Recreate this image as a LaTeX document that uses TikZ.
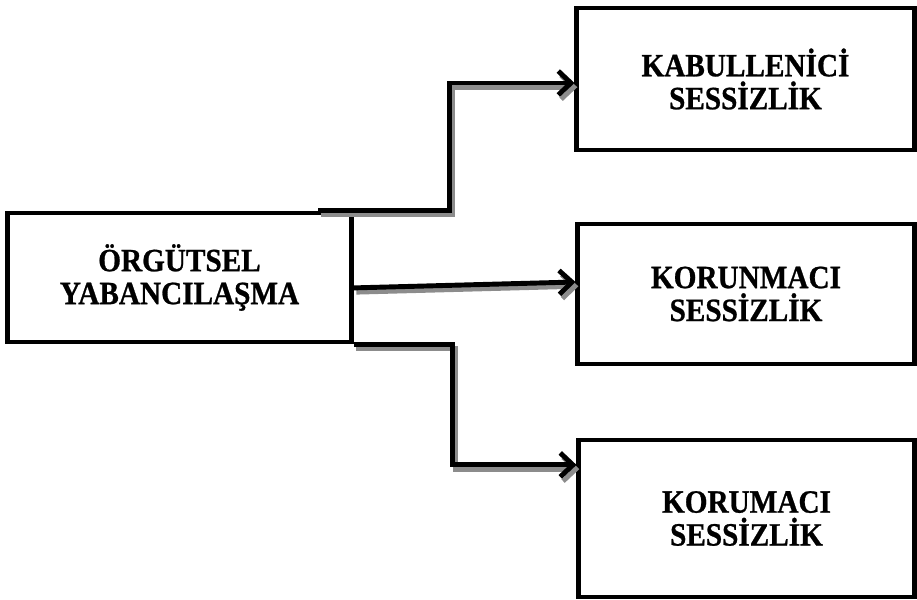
\documentclass[tikz,border=0pt]{standalone}
\usepackage{fontspec}
\setmainfont{Liberation Serif}[FakeStretch=0.9, BoldFeatures={FakeBold=0.8}]
\usepackage{tikz}
\usetikzlibrary{arrows.meta, positioning}

\begin{document}
\begin{tikzpicture}[x=0.025cm, y=-0.025cm, line width=3.5pt, >={Straight Barb[length=9pt,width=17pt]},
        shadowed/.style={preaction={draw=black!45, transform canvas={shift={(2pt,-3pt)}}}}]
        \tikzstyle{kutu}=[draw, fill=white, align=center, inner sep=0pt, font=\bfseries\fontsize{23.1}{23.4}\selectfont]

        \useasboundingbox (0,0) rectangle (917,600);

        \node[kutu, minimum width=8.575cm, minimum height=3.225cm] (A) at (179.5,277.5) {ÖRGÜTSEL\\YABANCILAŞMA};
        \node[kutu, minimum width=8.425cm, minimum height=3.55cm]  (B) at (745.5,79)    {KABULLENİCİ\\SESSİZLİK};
        \node[kutu, minimum width=8.4cm,   minimum height=3.5cm]   (C) at (746,294)     {KORUNMACI\\SESSİZLİK};
        \node[kutu, minimum width=8.375cm, minimum height=3.925cm] (D) at (746.5,518.5) {KORUMACI\\SESSİZLİK};

        \draw[->, shadowed] ([xshift=-0.875cm]A.north east) -- ++(131,0) |- ([yshift=-0.1cm]B.west);
        \draw[->, shadowed] ([yshift=-0.26cm]A.east) -- ([yshift=0.3cm]C.west);
        \draw[->, shadowed] (A.south east) -- ++(99,0) |- ([yshift=1.34cm]D.west);
\end{tikzpicture}
\end{document}
